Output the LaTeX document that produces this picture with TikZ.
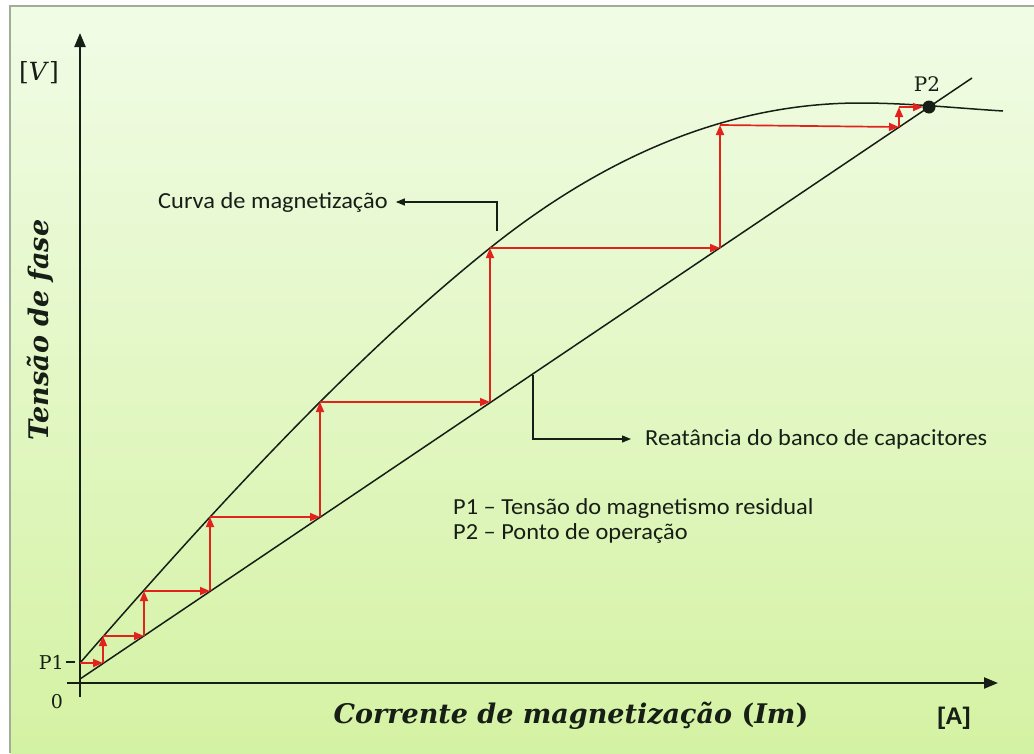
\documentclass[tikz,border=0pt]{standalone}
\usepackage{fontspec}
\usetikzlibrary{arrows.meta}
\newfontfamily\calfont{Carlito}
\newfontfamily\sansfontb{Liberation Sans}
\newfontfamily\axisfont{DejaVu Serif}
\definecolor{bgtop}{HTML}{F1FCE6}
\definecolor{bgbot}{HTML}{D4F2A3}
\definecolor{framec}{HTML}{9FAF97}
\definecolor{ink}{HTML}{161E16}
\definecolor{stair}{HTML}{E1231C}
\begin{document}
\begin{tikzpicture}[x=1pt,y=-1pt,
  axisline/.style={line width=2.2pt, draw=ink, -{Triangle[length=14pt,width=11pt]}},
  crv/.style={line width=1.5pt, draw=ink},
  stp/.style={line width=1.7pt, draw=stair, -{Triangle[length=10pt,width=8pt]}},
  lbl/.style={font={\calfont\fontsize{23}{25}\selectfont}, text=ink, inner sep=0pt, xscale=1.06},
  ptl/.style={font={\axisfont\fontsize{19}{22}\selectfont}, text=ink, inner sep=0pt},
  callout/.style={line width=1.3pt, draw=ink, -{Triangle[length=9pt,width=7pt]}}
]
\useasboundingbox (0,0) rectangle (1034,753);
\fill[white] (0,0) rectangle (1034,753);
\shade[top color=bgtop, bottom color=bgbot] (10,6) rectangle (1034,753);
\draw[framec, line width=1.5pt] (10,753) -- (10,6) -- (1034,6);

% axes
\coordinate (ybot) at (80,697);
\coordinate (ytop) at (80,33);
\coordinate (xl) at (67,683);
\coordinate (xr) at (998,683);
\draw[axisline] (ybot) -- (ytop);
\draw[axisline] (xl) -- (xr);

% reactance line
\coordinate (L0) at (80,679);
\coordinate (L1) at (972,78);
\draw[crv] (L0) -- (L1);

% staircase points
\coordinate (c0) at (80,663);
\coordinate (l1) at (103,663);
\coordinate (c1) at (103,636);
\coordinate (l2) at (144,636);
\coordinate (c2) at (144,591);
\coordinate (l3) at (210,591);
\coordinate (c3) at (210,517);
\coordinate (l4) at (320,517);
\coordinate (c4) at (320,402);
\coordinate (l5) at (490,402);
\coordinate (c5) at (490,248);
\coordinate (l6) at (720,248);
\coordinate (c6) at (720,125);
\coordinate (l7) at (899,127);
\coordinate (c7) at (899,107);
\coordinate (P2) at (929,107);
\coordinate (pk) at (860,103);
\coordinate (cend) at (1003,111);

% magnetization curve
\draw[crv] (c0) .. controls (217,505.5) and (353,357.6) .. (c5)
  .. controls (613,149.6) and (737,103) .. (pk)
  .. controls (908,103) and (955,108) .. (cend);

\draw[stp] (c0) -- (l1);
\draw[stp] (l1) -- (c1);
\draw[stp] (c1) -- (l2);
\draw[stp] (l2) -- (c2);
\draw[stp] (c2) -- (l3);
\draw[stp] (l3) -- (c3);
\draw[stp] (c3) -- (l4);
\draw[stp] (l4) -- (c4);
\draw[stp] (c4) -- (l5);
\draw[stp] (l5) -- (c5);
\draw[stp] (c5) -- (l6);
\draw[stp] (l6) -- (c6);
\draw[stp] (c6) -- (l7);
\draw[stp] (l7) -- (c7);
\draw[stp, shorten >=6pt] (c7) -- (P2);

\fill[ink] (P2) circle (6.5);

% P1 tick and labels
\coordinate (t1) at (66,662);
\coordinate (t2) at (75,662);
\draw[ink, line width=2.5pt] (t1) -- (t2);
\node[ptl, anchor=east] (p1) at (64,662) {P1};
\node[ptl] (zero) at (57,702) {0};
\node[ptl, font={\axisfont\fontsize{20}{24}\selectfont}] (p2) at (927,84) {P2};
\node[ptl, font={\axisfont\fontsize{25}{30}\selectfont}] (vlab) at (39,73) {[\textit{V}]};

% axis titles
\node[text=ink, inner sep=0pt, rotate=90, font={\axisfont\bfseries\itshape\fontsize{27}{30}\selectfont}] (ylab) at (40,330) {Tensão de fase};
\node[text=ink, inner sep=0pt, font={\axisfont\bfseries\itshape\fontsize{27}{30}\selectfont}] (xlab) at (571,716) {Corrente de magnetização {\upshape(}Im{\upshape)}};
\node[text=ink, inner sep=0pt, font={\sansfontb\bfseries\fontsize{24}{28}\selectfont}] (alab) at (954,718) {[A]};

% callouts
\node[lbl, anchor=west] (cvl) at (158,202) {Curva de magnetização};
\coordinate (cv1) at (497,231);
\draw[callout] (cv1) |- ([xshift=8pt]cvl.east);

\node[lbl, anchor=west] (rl) at (645,439) {Reatância do banco de capacitores};
\coordinate (rv1) at (533,375);
\draw[callout] (rv1) |- ([xshift=-14pt]rl.west);

% legend
\node[lbl, anchor=west] (leg1) at (453,508) {P1 – Tensão do magnetismo residual};
\node[lbl, anchor=west] (leg2) at (453,533) {P2 – Ponto de operação};
\end{tikzpicture}
\end{document}
